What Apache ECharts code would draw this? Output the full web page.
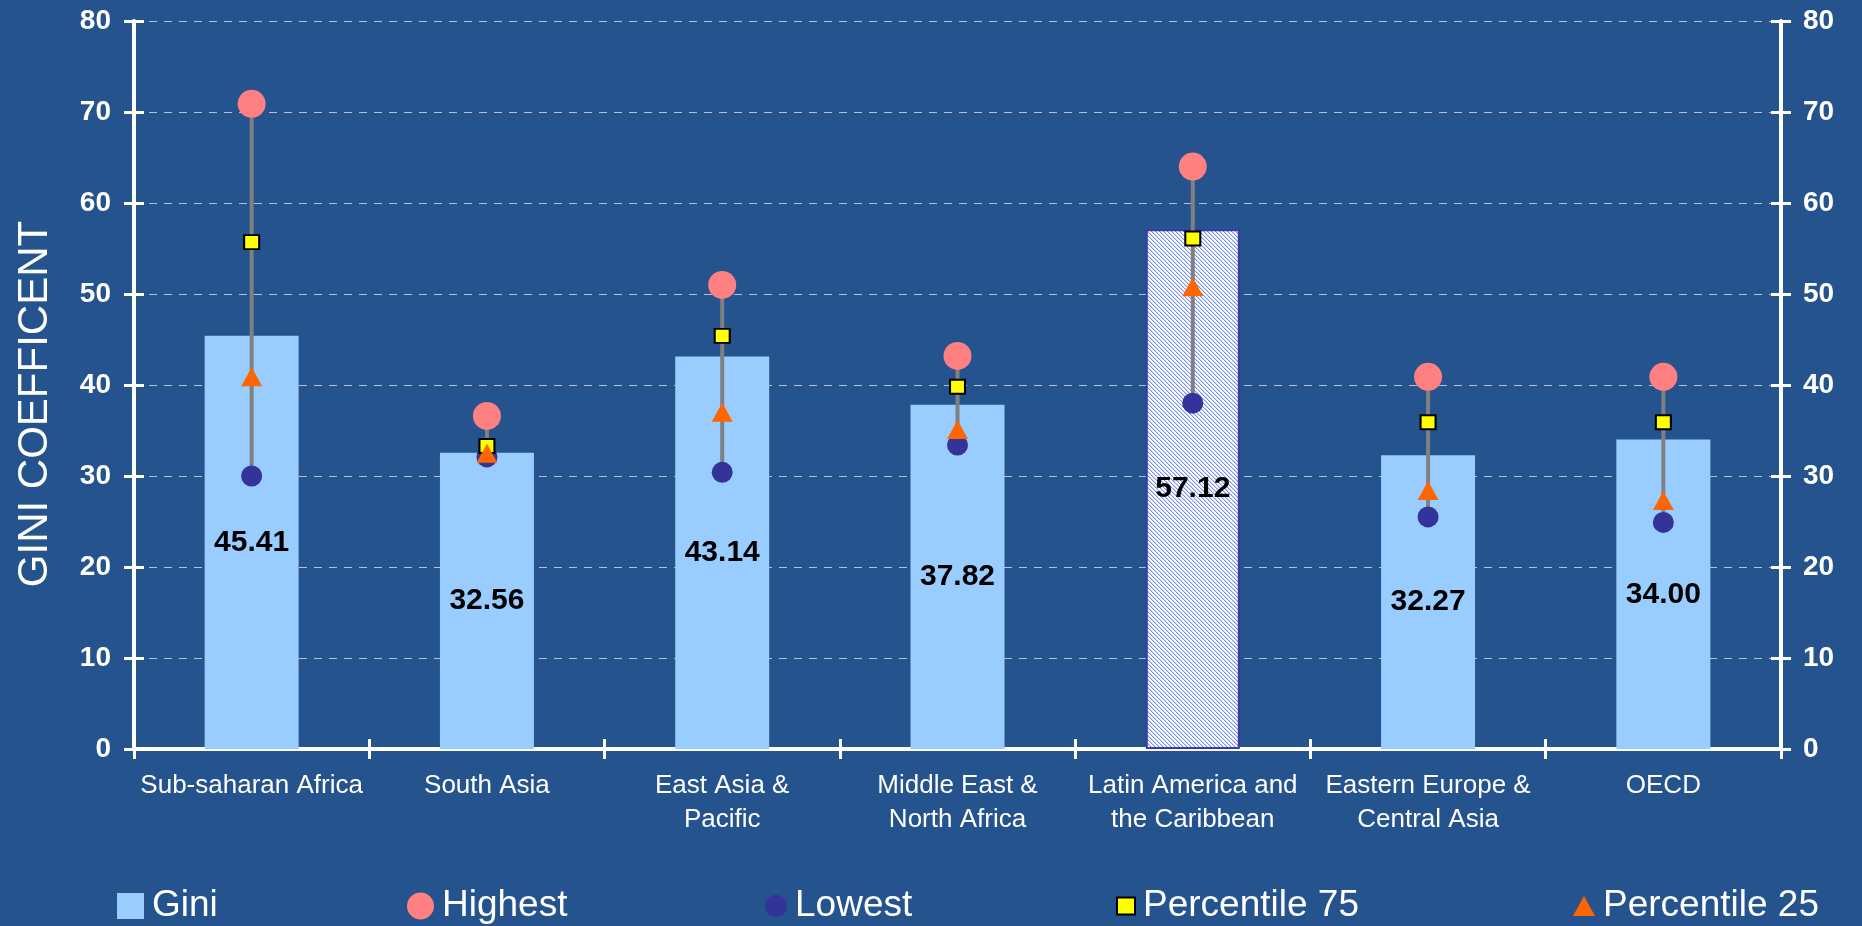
<!DOCTYPE html>
<html>
<head>
<meta charset="utf-8">
<title>Gini coefficient by region</title>
<script src="https://cdn.jsdelivr.net/npm/echarts@6/dist/echarts.min.js"></script>
<style>
  html, body { margin: 0; padding: 0; background: #25538D; }
  #chart { width: 1862px; height: 926px; }
</style>
</head>
<body>
<div id="chart"></div>
<script>
// Regional inequality: average Gini per region, with the spread of country values
const regions = [
  'Sub-saharan Africa',
  'South Asia',
  'East Asia &\nPacific',
  'Middle East &\nNorth Africa',
  'Latin America and\nthe Caribbean',
  'Eastern Europe &\nCentral Asia',
  'OECD'
];
const gini     = [45.41, 32.56, 43.14, 37.82, 57.12, 32.27, 34.00];
const highest  = [70.9, 36.6, 51.0, 43.2, 64.0, 40.9, 40.9];
const lowest   = [30.0, 32.1, 30.4, 33.4, 38.0, 25.5, 24.9];
const p75      = [55.7, 33.3, 45.4, 39.8, 56.1, 35.9, 35.9];
const p25      = [40.9, 32.5, 37.0, 35.1, 50.8, 28.4, 27.3];
const yMin = 0, yMax = 80, yStep = 10;
const highlightIndex = 4; // Latin America is drawn with a hatched fill

const FONT = "'Liberation Sans', Arial, sans-serif";
const WHITE = '#ffffff';

// Small diagonal-hatch tile used as a repeating fill
function hatchTile() {
  const n = 4;
  const c = document.createElement('canvas');
  c.width = n; c.height = n;
  const ctx = c.getContext('2d');
  const img = ctx.createImageData(n, n);
  for (let y = 0; y < n; y++) {
    for (let x = 0; x < n; x++) {
      const k = ((x - y) % n + n) % n;
      let col = [255, 255, 255];
      if (k === 0) col = [118, 144, 236];
      else if (k === 1) col = [204, 214, 249];
      const o = (y * n + x) * 4;
      img.data[o] = col[0]; img.data[o + 1] = col[1]; img.data[o + 2] = col[2]; img.data[o + 3] = 255;
    }
  }
  ctx.putImageData(img, 0, 0);
  return c;
}

const chart = echarts.init(document.getElementById('chart'), null, { renderer: 'canvas' });

const tickStyle = { color: WHITE, width: 3 };

const valueAxisBase = { type: 'value', min: yMin, max: yMax, interval: yStep };

const legendBase = {
  top: 881,
  itemGap: 0,
  selectedMode: false,
  textStyle: { color: WHITE, fontSize: 37, fontFamily: FONT, lineHeight: 40, padding: [0, 0, 0, 3] }
};

const option = {
  backgroundColor: '#25538D',
  animation: false,
  textStyle: { fontFamily: FONT },
  grid: { left: 134, right: 81, top: 21, bottom: 177, containLabel: false },
  legend: [
    Object.assign({}, legendBase, { data: ['Gini'], left: 112, itemWidth: 27, itemHeight: 26, icon: 'rect' }),
    Object.assign({}, legendBase, { data: ['Highest'], left: 402, itemWidth: 27, itemHeight: 27 }),
    Object.assign({}, legendBase, { data: ['Lowest'], left: 760, itemWidth: 22, itemHeight: 22 }),
    Object.assign({}, legendBase, { data: ['Percentile 75'], left: 1111, itemWidth: 18, itemHeight: 17 }),
    Object.assign({}, legendBase, { data: ['Percentile 25'], left: 1568, itemWidth: 22, itemHeight: 20 })
  ],
  xAxis: [
    {
      type: 'category',
      data: regions,
      position: 'bottom',
      axisLine: { show: true, lineStyle: { color: WHITE, width: 4 } },
      axisTick: { show: true, length: 10, lineStyle: tickStyle },
      axisLabel: { color: WHITE, fontSize: 26, lineHeight: 34, margin: 20, interval: 0, fontFamily: FONT },
      splitLine: { show: false }
    },
    {
      type: 'category',
      data: regions,
      position: 'bottom',
      axisLine: { show: false },
      axisTick: { show: true, inside: true, length: 10, lineStyle: tickStyle },
      axisLabel: { show: false },
      splitLine: { show: false }
    }
  ],
  yAxis: [
    Object.assign({}, valueAxisBase, {
      position: 'left',
      axisLine: { show: true, lineStyle: { color: WHITE, width: 4 } },
      axisTick: { show: true, length: 10, lineStyle: tickStyle },
      axisLabel: { color: WHITE, fontSize: 28, fontWeight: 'bold', margin: 23, fontFamily: FONT },
      splitLine: { show: true, lineStyle: { color: '#b9c1cf', width: 1, type: [8, 7] } },
      name: 'GINI COEFFICENT',
      nameLocation: 'middle',
      nameRotate: 90,
      nameGap: 78,
      nameTextStyle: { color: WHITE, fontSize: 42, fontFamily: FONT, padding: [0, 38, 0, 0] }
    }),
    Object.assign({}, valueAxisBase, {
      position: 'right',
      axisLine: { show: true, lineStyle: { color: WHITE, width: 4 } },
      axisTick: { show: true, length: 10, lineStyle: tickStyle },
      axisLabel: { color: WHITE, fontSize: 28, fontWeight: 'bold', margin: 22, fontFamily: FONT },
      splitLine: { show: false }
    }),
    Object.assign({}, valueAxisBase, {
      position: 'left',
      axisLine: { show: false },
      axisTick: { show: true, inside: true, length: 10, lineStyle: tickStyle },
      axisLabel: { show: false },
      splitLine: { show: false }
    }),
    Object.assign({}, valueAxisBase, {
      position: 'right',
      axisLine: { show: false },
      axisTick: { show: true, inside: true, length: 10, lineStyle: tickStyle },
      axisLabel: { show: false },
      splitLine: { show: false }
    })
  ],
  series: [
    {
      type: 'bar',
      name: 'Gini',
      xAxisIndex: 0,
      yAxisIndex: 0,
      barWidth: 94,
      z: 2,
      itemStyle: { color: '#99CCFF' },
      emphasis: { disabled: true },
      label: {
        show: true,
        position: 'inside',
        color: '#000000',
        fontSize: 30,
        fontWeight: 'bold',
        fontFamily: FONT,
        textBorderWidth: 0,
        formatter: p => Number(p.value).toFixed(2)
      },
      data: gini.map((v, i) => i === highlightIndex
        ? { value: v, itemStyle: { color: { image: hatchTile(), repeat: 'repeat' }, borderColor: '#3a3aac', borderWidth: 2 } }
        : v)
    },
    {
      // grey whisker from lowest to highest country value
      type: 'custom',
      name: 'range',
      xAxisIndex: 0,
      yAxisIndex: 0,
      z: 3,
      silent: true,
      encode: { x: 0, y: [1, 2] },
      renderItem: (params, api) => {
        const a = api.coord([api.value(0), api.value(1)]);
        const b = api.coord([api.value(0), api.value(2)]);
        return {
          type: 'line',
          shape: { x1: a[0], y1: a[1], x2: b[0], y2: b[1] },
          style: { stroke: '#808080', lineWidth: 4 }
        };
      },
      data: regions.map((r, i) => [i, lowest[i], highest[i]])
    },
    {
      type: 'scatter', name: 'Highest', xAxisIndex: 0, yAxisIndex: 0, z: 4,
      symbol: 'circle', symbolSize: 28,
      itemStyle: { color: '#FF8080', opacity: 1 },
      emphasis: { disabled: true },
      data: highest
    },
    {
      type: 'scatter', name: 'Lowest', xAxisIndex: 0, yAxisIndex: 0, z: 4,
      symbol: 'circle', symbolSize: 21,
      itemStyle: { color: '#333399', opacity: 1 },
      emphasis: { disabled: true },
      data: lowest
    },
    {
      type: 'scatter', name: 'Percentile 75', xAxisIndex: 0, yAxisIndex: 0, z: 4,
      symbol: 'rect', symbolSize: [15, 14],
      itemStyle: { color: '#FFFF00', borderColor: '#000000', borderWidth: 2, opacity: 1 },
      emphasis: { disabled: true },
      data: p75
    },
    {
      type: 'scatter', name: 'Percentile 25', xAxisIndex: 0, yAxisIndex: 0, z: 4,
      symbol: 'triangle', symbolSize: [21, 19],
      itemStyle: { color: '#FF6600', opacity: 1 },
      emphasis: { disabled: true },
      data: p25
    }
  ]
};

chart.setOption(option);
</script>
</body>
</html>
